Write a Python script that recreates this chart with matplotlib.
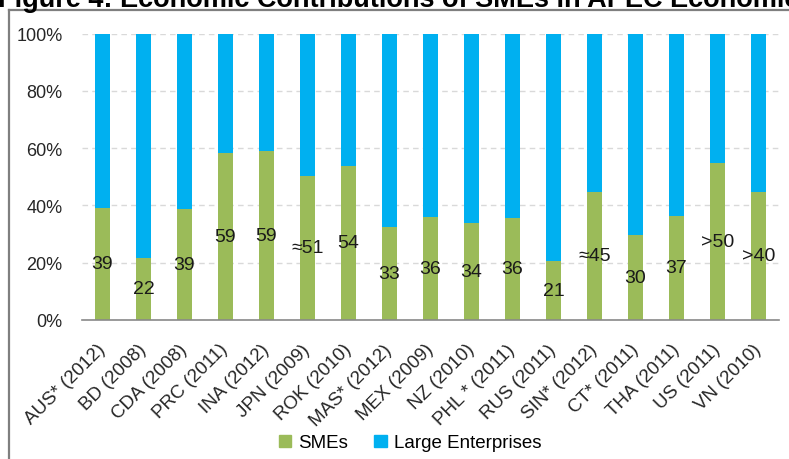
import matplotlib
matplotlib.use("Agg")
import matplotlib.pyplot as plt
from matplotlib.lines import Line2D
from matplotlib.patches import Patch

plt.rcParams['font.family'] = ['Liberation Sans', 'DejaVu Sans']

# economies (survey year)
economies = ["AUS* (2012)", "BD (2008)", "CDA (2008)", "PRC (2011)", "INA (2012)",
             "JPN (2009)", "ROK (2010)", "MAS* (2012)", "MEX (2009)", "NZ (2010)",
             "PHL * (2011)", "RUS (2011)", "SIN* (2012)", "CT* (2011)", "THA (2011)",
             "US (2011)", "VN (2010)"]
# SME share of GDP (%)
smes = [39.2, 21.7, 38.8, 58.4, 59.1, 50.3, 53.8, 32.5, 36.0, 33.9,
        35.7, 20.6, 44.8, 29.7, 36.4, 54.9, 44.8]
# large enterprises make up the rest of each 100% bar
large = [60.8, 78.3, 61.2, 41.6, 40.9, 49.7, 46.2, 67.5, 64.0, 66.1,
         64.3, 79.4, 55.2, 70.3, 63.6, 45.1, 55.2]
# labels printed on the green part
sme_labels = ["39", "22", "39", "59", "59", "\u224851", "54", "33", "36", "34",
              "36", "21", "\u224845", "30", "37", ">50", ">40"]
yticks = [0, 20, 40, 60, 80, 100]

GREEN = "#9BBB59"
BLUE = "#00B0F0"

fig = plt.figure(figsize=(7.89, 4.60), dpi=100)
ax = fig.add_axes([82 / 789, 1 - 321 / 460, 697 / 789, 286.5 / 460])

x = list(range(len(economies)))
b1 = ax.bar(x, smes, width=0.39, color=GREEN, linewidth=0)
b2 = ax.bar(x, large, width=0.39, bottom=smes, color=BLUE, linewidth=0)
ax.bar_label(b1, labels=sme_labels, label_type='center', fontsize=14, color='#1a1a1a')

ax.set_xlim(-0.5, len(economies) - 0.5)
ax.set_ylim(0, 100)
ax.set_yticks(yticks)
ax.set_yticklabels([f"{v}%" for v in yticks], fontsize=13, color='#262626')
ax.set_xticks(x)
ax.set_xticklabels(economies, rotation=45, ha='right', va='center',
                   rotation_mode='anchor', fontsize=13.5, color='#262626')
ax.tick_params(axis='y', length=0, pad=14)
ax.tick_params(axis='x', length=0, pad=19)

ax.yaxis.grid(True, linestyle=(0, (4, 3)), color='#d9d9d9', linewidth=1)
ax.set_axisbelow(True)
for s in ['left', 'top', 'right']:
    ax.spines[s].set_visible(False)
ax.spines['bottom'].set_color('#898989')
ax.spines['bottom'].set_linewidth(1.2)

handles = [Patch(color=GREEN, label='SMEs'), Patch(color=BLUE, label='Large Enterprises')]
fig.legend(handles=handles, loc='center', bbox_to_anchor=(410 / 789, 1 - 444 / 460),
           ncol=2, frameon=False, fontsize=13.5, handlelength=0.65, handleheight=0.65,
           handletextpad=0.4, columnspacing=1.4)

# chart frame (only top and left edges are inside the picture)
frame_col = '#7f7f7f'
fig.add_artist(Line2D([9 / 789, 1], [1 - 11 / 460, 1 - 11 / 460],
                      transform=fig.transFigure, color=frame_col, lw=1.6))
fig.add_artist(Line2D([9 / 789, 9 / 789], [0, 1 - 11 / 460],
                      transform=fig.transFigure, color=frame_col, lw=1.6))

# title, cut off by the top of the image
fig.text(-0.002, 1 - 7 / 460, "Figure 4: Economic Contributions of SMEs in APEC Economies",
         fontsize=19.5, fontweight='bold', ha='left', va='baseline', color='black')

fig.savefig("out.png", dpi=100)
